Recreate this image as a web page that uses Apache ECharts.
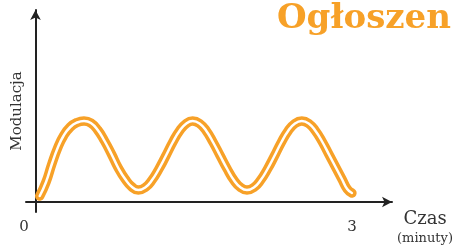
<!DOCTYPE html>
<html><head><meta charset="utf-8">
<script src="https://cdn.jsdelivr.net/npm/echarts@6/dist/echarts.min.js"></script>
<style>html,body{margin:0;padding:0;background:#fff}#c{width:454px;height:246px}</style>
</head><body><div id="c"></div>
<script>
const minutes = [0.04,0.10,0.155,0.21,0.265,0.33,0.395,0.46,0.525,0.59,0.655,0.72,0.785,0.85,0.915,0.975,
  1.04,1.105,1.17,1.235,1.30,1.365,1.43,1.49,1.555,1.62,1.685,1.75,1.815,1.88,1.945,2.005,
  2.07,2.135,2.20,2.265,2.33,2.395,2.46,2.525,2.59,2.655,2.72,2.785,2.85,2.905,2.955,3.0];
const modulation = [0.06,0.20,0.38,0.54,0.66,0.75,0.795,0.81,0.79,0.72,0.61,0.48,0.34,0.23,0.15,0.12,
  0.145,0.22,0.33,0.46,0.595,0.71,0.785,0.81,0.785,0.71,0.595,0.465,0.335,0.22,0.145,0.12,
  0.145,0.22,0.33,0.46,0.595,0.71,0.785,0.81,0.785,0.71,0.60,0.47,0.34,0.23,0.13,0.09];
const xTickLabels = [0, 3];
const titleText = 'Ogłoszen';
const xName = 'Czas';
const xUnit = '(minuty)';
const yName = 'Modulacja';

const data = minutes.map((m, i) => [m, modulation[i]]);
const orange = '#F7A128';
const serif = "'DejaVu Serif', serif";
const chart = echarts.init(document.getElementById('c'), null, {renderer: 'canvas'});
chart.setOption({
  animation: false,
  backgroundColor: '#fff',
  title: {
    text: titleText, left: 272, top: -3,
    textStyle: {fontFamily: serif, fontWeight: 'bold', fontSize: 34, color: orange}
  },
  grid: {left: 26, right: 62, top: 10, bottom: 34, containLabel: false, outerBoundsMode: 'none'},
  xAxis: {
    type: 'value', min: -0.09, max: 3.38,
    axisLine: {onZero: true, symbol: ['none', 'arrow'], symbolSize: [8, 10], lineStyle: {color: '#222', width: 2}},
    axisTick: {show: false},
    splitLine: {show: false},
    axisLabel: {
      customValues: xTickLabels, margin: 8,
      fontFamily: serif, fontSize: 15, color: '#333',
      formatter: v => v === 0 ? '{z|0}' : String(v),
      rich: {z: {fontFamily: serif, fontSize: 15, color: '#333', padding: [0, 23, 0, 0]}}
    },
    name: '{a|' + xName + '}\n{b|' + xUnit + '}',
    nameLocation: 'end', nameGap: 4,
    nameTextStyle: {
      padding: [52, 0, 0, 0], align: 'left',
      rich: {
        a: {fontFamily: serif, fontSize: 18, color: '#333', width: 58, align: 'center', lineHeight: 22},
        b: {fontFamily: serif, fontSize: 13, color: '#333', width: 58, align: 'center', lineHeight: 18}
      }
    }
  },
  yAxis: {
    type: 'value', min: -0.1, max: 1.92,
    axisLine: {onZero: true, symbol: ['none', 'arrow'], symbolSize: [8, 10], lineStyle: {color: '#222', width: 2}},
    axisTick: {show: false},
    splitLine: {show: false},
    axisLabel: {show: false},
    name: yName, nameLocation: 'middle', nameRotate: 90, nameGap: 1,
    nameTextStyle: {fontFamily: serif, fontSize: 15, color: '#333'}
  },
  series: [
    {type: 'line', data: data, smooth: 0.5, smoothConstraint: false, showSymbol: false, silent: true,
     lineStyle: {color: orange, width: 9.5, cap: 'round', join: 'round'}},
    {type: 'line', data: data, smooth: 0.5, smoothConstraint: false, showSymbol: false, silent: true,
     lineStyle: {color: '#fff', width: 2.5, cap: 'round', join: 'round'}}
  ]
});
</script></body></html>
